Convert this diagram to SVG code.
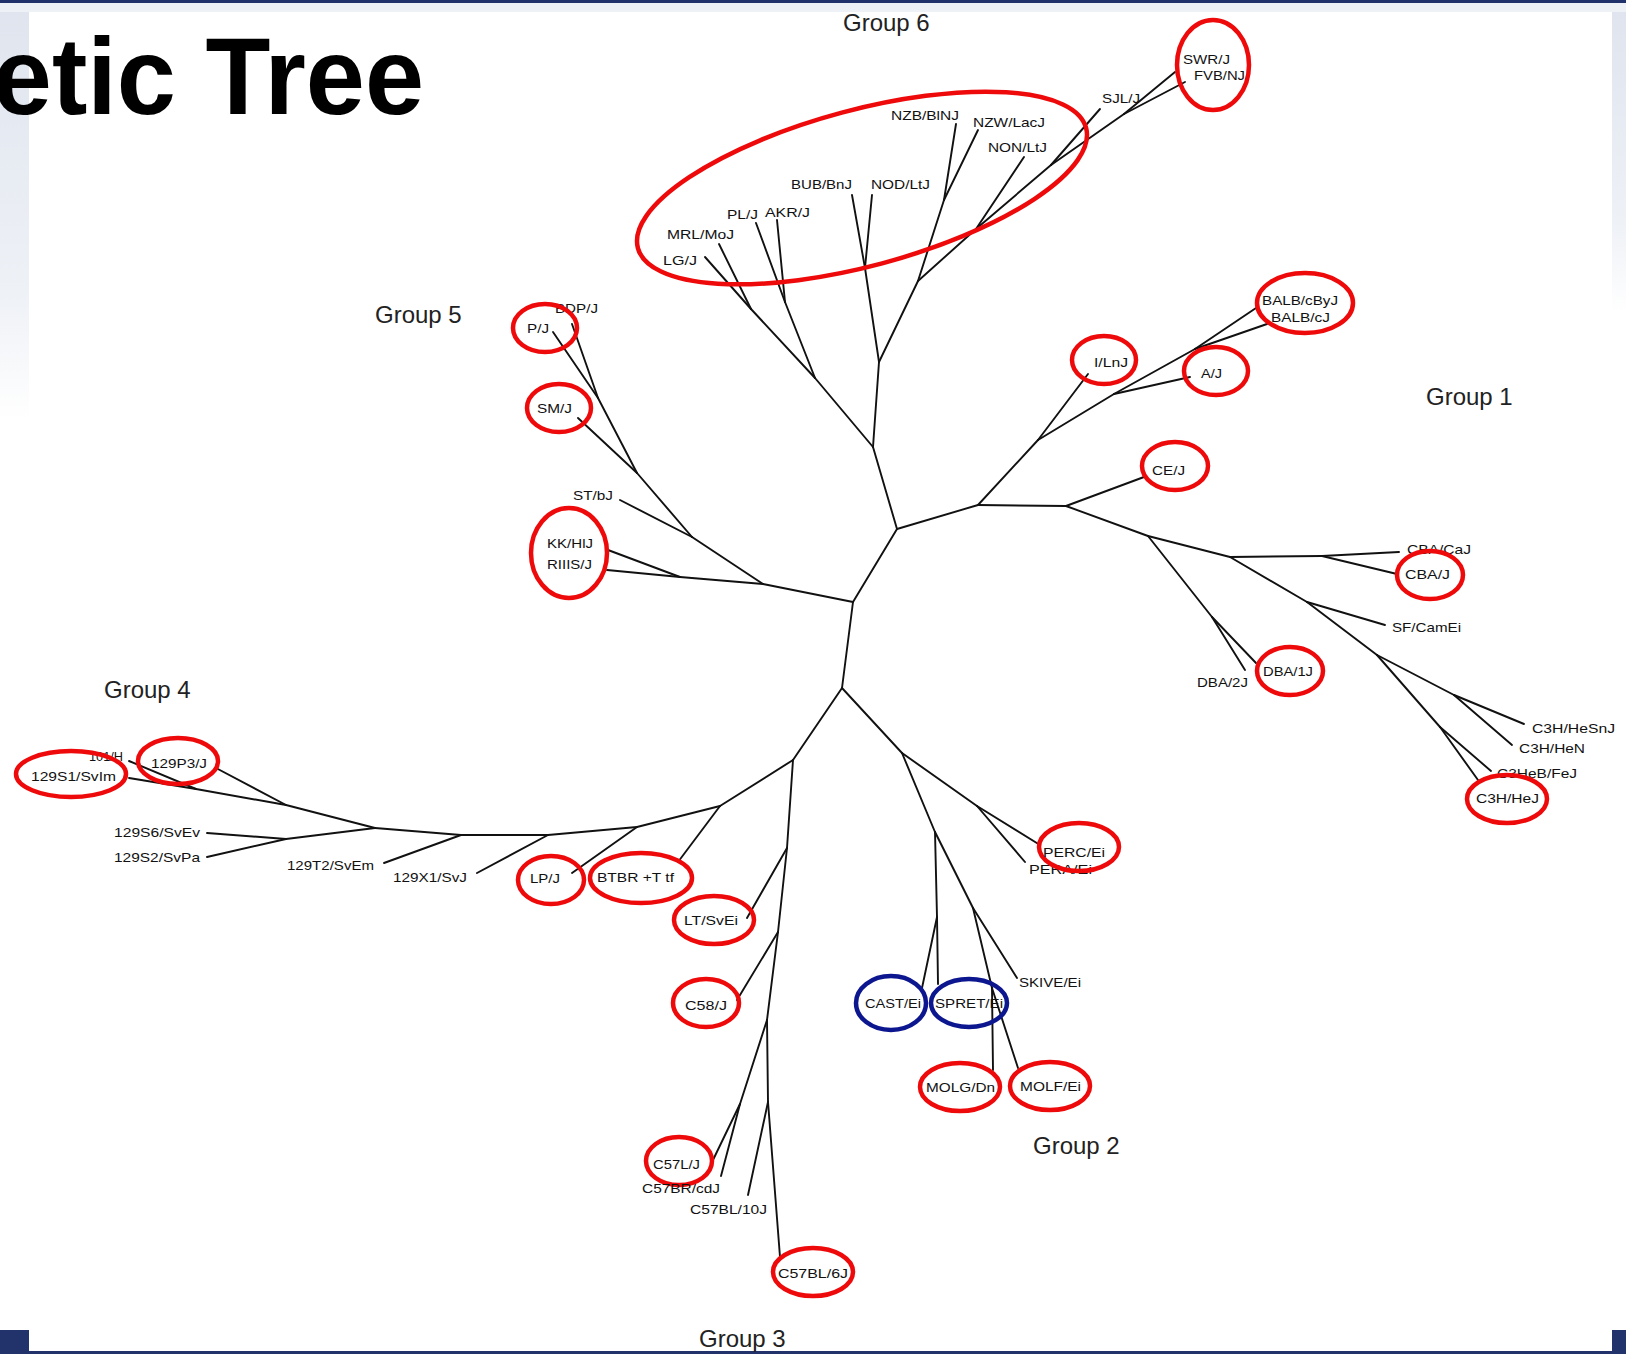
<svg xmlns="http://www.w3.org/2000/svg" width="1626" height="1354" viewBox="0 0 1626 1354">
<defs>
<linearGradient id="lg" x1="0" y1="0" x2="0" y2="1">
<stop offset="0" stop-color="#dfe4ee"/>
<stop offset="0.7" stop-color="#eef1f6"/>
<stop offset="1" stop-color="#ffffff"/>
</linearGradient>
<style>
.e{stroke:#111;stroke-width:1.9;fill:none;stroke-linecap:round}
.t{font-family:"Liberation Sans",Arial,sans-serif;font-size:13px;fill:#111}
.g{font-family:"Liberation Sans",Arial,sans-serif;font-size:24px;fill:#222}
.r{fill:none;stroke:#ee0a0a;stroke-width:4.5}
.b{fill:none;stroke:#0c168f;stroke-width:4.5}
</style>
</defs>
<rect width="1626" height="1354" fill="#fff"/>
<rect x="0" y="0" width="29" height="420" fill="url(#lg)"/>
<rect x="1612" y="12" width="14" height="300" fill="url(#lg)"/>
<rect x="0" y="0" width="1626" height="12" fill="#eef1f6"/>
<rect x="0" y="0" width="1626" height="3" fill="#22326b"/>
<rect x="0" y="1330" width="29" height="24" fill="#22326b"/>
<rect x="1612" y="1330" width="14" height="24" fill="#22326b"/>
<rect x="0" y="1351" width="1626" height="3" fill="#22326b"/>
<text transform="translate(424,114) scale(0.975,1)" text-anchor="end" font-family="Liberation Sans,Arial,sans-serif" font-weight="bold" font-size="109" fill="#000">etic Tree</text>

<g id="connectors">
<line class="e" x1="897" y1="529" x2="853" y2="602"/>
<line class="e" x1="853" y1="602" x2="842" y2="688"/>
<line class="e" x1="897" y1="529" x2="873" y2="447"/>
<line class="e" x1="897" y1="529" x2="978" y2="505"/>
<line class="e" x1="853" y1="602" x2="763" y2="584"/>
<line class="e" x1="842" y1="688" x2="902" y2="753"/>
<line class="e" x1="842" y1="688" x2="793" y2="760"/>
<!-- group 6 -->
<line class="e" x1="873" y1="447" x2="815" y2="378"/>
<line class="e" x1="815" y1="378" x2="751" y2="309"/>
<line class="e" x1="751" y1="309" x2="705" y2="257"/>
<line class="e" x1="751" y1="309" x2="719" y2="244"/>
<line class="e" x1="815" y1="378" x2="785" y2="302"/>
<line class="e" x1="785" y1="302" x2="756" y2="223"/>
<line class="e" x1="785" y1="302" x2="777" y2="220"/>
<line class="e" x1="873" y1="447" x2="879" y2="362"/>
<line class="e" x1="879" y1="362" x2="865" y2="268"/>
<line class="e" x1="865" y1="268" x2="852" y2="195"/>
<line class="e" x1="865" y1="268" x2="872" y2="195"/>
<line class="e" x1="879" y1="362" x2="918" y2="281"/>
<line class="e" x1="918" y1="281" x2="944" y2="200"/>
<line class="e" x1="944" y1="200" x2="956" y2="124"/>
<line class="e" x1="944" y1="200" x2="978" y2="130"/>
<line class="e" x1="918" y1="281" x2="976" y2="229"/>
<line class="e" x1="976" y1="229" x2="1024" y2="157"/>
<line class="e" x1="976" y1="229" x2="1051" y2="165"/>
<line class="e" x1="1051" y1="165" x2="1100" y2="109"/>
<line class="e" x1="1051" y1="165" x2="1124" y2="114"/>
<line class="e" x1="1124" y1="114" x2="1175" y2="72"/>
<line class="e" x1="1124" y1="114" x2="1185" y2="82"/>
<!-- group 1 -->
<line class="e" x1="978" y1="505" x2="1038" y2="440"/>
<line class="e" x1="1038" y1="440" x2="1088" y2="374"/>
<line class="e" x1="1038" y1="440" x2="1114" y2="394"/>
<line class="e" x1="1114" y1="394" x2="1190" y2="377"/>
<line class="e" x1="1114" y1="394" x2="1195" y2="349"/>
<line class="e" x1="1195" y1="349" x2="1256" y2="308"/>
<line class="e" x1="1195" y1="349" x2="1267" y2="324"/>
<line class="e" x1="978" y1="505" x2="1066" y2="506"/>
<line class="e" x1="1066" y1="506" x2="1144" y2="477"/>
<line class="e" x1="1066" y1="506" x2="1148" y2="536"/>
<line class="e" x1="1148" y1="536" x2="1212" y2="617"/>
<line class="e" x1="1212" y1="617" x2="1245" y2="670"/>
<line class="e" x1="1212" y1="617" x2="1256" y2="663"/>
<line class="e" x1="1148" y1="536" x2="1230" y2="557"/>
<line class="e" x1="1230" y1="557" x2="1322" y2="556"/>
<line class="e" x1="1322" y1="556" x2="1399" y2="552"/>
<line class="e" x1="1322" y1="556" x2="1397" y2="574"/>
<line class="e" x1="1230" y1="557" x2="1307" y2="602"/>
<line class="e" x1="1307" y1="602" x2="1385" y2="625"/>
<line class="e" x1="1307" y1="602" x2="1377" y2="655"/>
<line class="e" x1="1377" y1="655" x2="1454" y2="695"/>
<line class="e" x1="1454" y1="695" x2="1524" y2="724"/>
<line class="e" x1="1454" y1="695" x2="1512" y2="745"/>
<line class="e" x1="1377" y1="655" x2="1440" y2="727"/>
<line class="e" x1="1440" y1="727" x2="1491" y2="771"/>
<line class="e" x1="1440" y1="727" x2="1478" y2="780"/>
<!-- group 5 -->
<line class="e" x1="763" y1="584" x2="680" y2="577"/>
<line class="e" x1="680" y1="577" x2="608" y2="550"/>
<line class="e" x1="680" y1="577" x2="607" y2="570"/>
<line class="e" x1="763" y1="584" x2="692" y2="537"/>
<line class="e" x1="692" y1="537" x2="620" y2="500"/>
<line class="e" x1="692" y1="537" x2="637" y2="473"/>
<line class="e" x1="637" y1="473" x2="578" y2="418"/>
<line class="e" x1="637" y1="473" x2="598" y2="398"/>
<line class="e" x1="598" y1="398" x2="553" y2="332"/>
<line class="e" x1="598" y1="398" x2="572" y2="324"/>
<!-- group 2 -->
<line class="e" x1="902" y1="753" x2="977" y2="806"/>
<line class="e" x1="977" y1="806" x2="1040" y2="845"/>
<line class="e" x1="977" y1="806" x2="1025" y2="862"/>
<line class="e" x1="902" y1="753" x2="935" y2="832"/>
<line class="e" x1="935" y1="832" x2="937" y2="917"/>
<line class="e" x1="937" y1="917" x2="922" y2="988"/>
<line class="e" x1="937" y1="917" x2="938" y2="984"/>
<line class="e" x1="935" y1="832" x2="973" y2="908"/>
<line class="e" x1="973" y1="908" x2="1017" y2="978"/>
<line class="e" x1="973" y1="908" x2="992" y2="988"/>
<line class="e" x1="992" y1="988" x2="993" y2="1070"/>
<line class="e" x1="992" y1="988" x2="1018" y2="1068"/>
<!-- group 3 -->
<line class="e" x1="793" y1="760" x2="787" y2="848"/>
<line class="e" x1="787" y1="848" x2="747" y2="918"/>
<line class="e" x1="787" y1="848" x2="778" y2="932"/>
<line class="e" x1="778" y1="932" x2="737" y2="1000"/>
<line class="e" x1="778" y1="932" x2="767" y2="1020"/>
<line class="e" x1="767" y1="1020" x2="740" y2="1104"/>
<line class="e" x1="740" y1="1104" x2="713" y2="1160"/>
<line class="e" x1="740" y1="1104" x2="721" y2="1176"/>
<line class="e" x1="767" y1="1020" x2="768" y2="1102"/>
<line class="e" x1="768" y1="1102" x2="748" y2="1195"/>
<line class="e" x1="768" y1="1102" x2="780" y2="1257"/>
<!-- group 4 -->
<line class="e" x1="793" y1="760" x2="720" y2="806"/>
<line class="e" x1="720" y1="806" x2="678" y2="862"/>
<line class="e" x1="720" y1="806" x2="637" y2="827"/>
<line class="e" x1="637" y1="827" x2="572" y2="873"/>
<line class="e" x1="637" y1="827" x2="548" y2="835"/>
<line class="e" x1="548" y1="835" x2="477" y2="873"/>
<line class="e" x1="548" y1="835" x2="461" y2="835"/>
<line class="e" x1="461" y1="835" x2="384" y2="863"/>
<line class="e" x1="461" y1="835" x2="375" y2="828"/>
<line class="e" x1="375" y1="828" x2="286" y2="839"/>
<line class="e" x1="286" y1="839" x2="207" y2="833"/>
<line class="e" x1="286" y1="839" x2="207" y2="857"/>
<line class="e" x1="375" y1="828" x2="286" y2="805"/>
<line class="e" x1="286" y1="805" x2="216" y2="768"/>
<line class="e" x1="286" y1="805" x2="196" y2="789"/>
<line class="e" x1="196" y1="789" x2="129" y2="778"/>
<line class="e" x1="196" y1="789" x2="129" y2="761"/>
</g>

<g id="group-labels">
<text class="g" x="843" y="31">Group 6</text>
<text class="g" x="375" y="323">Group 5</text>
<text class="g" x="1426" y="405">Group 1</text>
<text class="g" x="104" y="698">Group 4</text>
<text class="g" x="1033" y="1154">Group 2</text>
<text class="g" x="699" y="1347">Group 3</text>
</g>

<g id="group6-circle"><ellipse class="r" cx="862" cy="188" rx="232" ry="78" transform="rotate(-15 862 188)"/></g>
<g id="NZB"><text class="t" x="891" y="120" textLength="68" lengthAdjust="spacingAndGlyphs">NZB/BlNJ</text></g>
<g id="NZW"><text class="t" x="973" y="127" textLength="72" lengthAdjust="spacingAndGlyphs">NZW/LacJ</text></g>
<g id="NON"><text class="t" x="988" y="152" textLength="59" lengthAdjust="spacingAndGlyphs">NON/LtJ</text></g>
<g id="SJL"><text class="t" x="1102" y="103" textLength="38" lengthAdjust="spacingAndGlyphs">SJL/J</text></g>
<g id="SWR"><ellipse class="r" cx="1213" cy="65" rx="36" ry="45"/><text class="t" x="1183" y="64" textLength="47" lengthAdjust="spacingAndGlyphs">SWR/J</text></g>
<g id="FVB"><text class="t" x="1194" y="80" textLength="51" lengthAdjust="spacingAndGlyphs">FVB/NJ</text></g>
<g id="BUB"><text class="t" x="791" y="189" textLength="61" lengthAdjust="spacingAndGlyphs">BUB/BnJ</text></g>
<g id="NOD"><text class="t" x="871" y="189" textLength="59" lengthAdjust="spacingAndGlyphs">NOD/LtJ</text></g>
<g id="PL"><text class="t" x="727" y="219" textLength="31" lengthAdjust="spacingAndGlyphs">PL/J</text></g>
<g id="AKR"><text class="t" x="765" y="217" textLength="45" lengthAdjust="spacingAndGlyphs">AKR/J</text></g>
<g id="MRL"><text class="t" x="667" y="239" textLength="67" lengthAdjust="spacingAndGlyphs">MRL/MoJ</text></g>
<g id="LG"><text class="t" x="663" y="265" textLength="34" lengthAdjust="spacingAndGlyphs">LG/J</text></g>

<g id="BALBcByJ"><ellipse class="r" cx="1305" cy="303" rx="48" ry="30"/><text class="t" x="1262" y="305" textLength="76" lengthAdjust="spacingAndGlyphs">BALB/cByJ</text></g>
<g id="BALBcJ"><text class="t" x="1271" y="322" textLength="59" lengthAdjust="spacingAndGlyphs">BALB/cJ</text></g>
<g id="ILnJ"><ellipse class="r" cx="1104" cy="360" rx="32" ry="24"/><text class="t" x="1094" y="367" textLength="34" lengthAdjust="spacingAndGlyphs">I/LnJ</text></g>
<g id="AJ"><ellipse class="r" cx="1216" cy="371" rx="32" ry="24"/><text class="t" x="1201" y="378" textLength="21" lengthAdjust="spacingAndGlyphs">A/J</text></g>
<g id="CEJ"><ellipse class="r" cx="1175" cy="466" rx="33" ry="24"/><text class="t" x="1152" y="475" textLength="33" lengthAdjust="spacingAndGlyphs">CE/J</text></g>
<g id="CBACaJ"><text class="t" x="1407" y="554" textLength="64" lengthAdjust="spacingAndGlyphs">CBA/CaJ</text></g>
<g id="CBAJ"><ellipse class="r" cx="1430" cy="575" rx="33" ry="24"/><text class="t" x="1405" y="579" textLength="45" lengthAdjust="spacingAndGlyphs">CBA/J</text></g>
<g id="SFCamEi"><text class="t" x="1392" y="632" textLength="69" lengthAdjust="spacingAndGlyphs">SF/CamEi</text></g>
<g id="DBA2J"><text class="t" x="1197" y="687" textLength="51" lengthAdjust="spacingAndGlyphs">DBA/2J</text></g>
<g id="DBA1J"><ellipse class="r" cx="1290" cy="671" rx="33" ry="24"/><text class="t" x="1263" y="676" textLength="50" lengthAdjust="spacingAndGlyphs">DBA/1J</text></g>
<g id="C3HHeSnJ"><text class="t" x="1532" y="733" textLength="83" lengthAdjust="spacingAndGlyphs">C3H/HeSnJ</text></g>
<g id="C3HHeN"><text class="t" x="1519" y="753" textLength="66" lengthAdjust="spacingAndGlyphs">C3H/HeN</text></g>
<g id="C3HeBFeJ"><text class="t" x="1497" y="778" textLength="80" lengthAdjust="spacingAndGlyphs">C3HeB/FeJ</text></g>
<g id="C3HHeJ"><ellipse class="r" cx="1507" cy="799" rx="40" ry="24"/><text class="t" x="1476" y="803" textLength="63" lengthAdjust="spacingAndGlyphs">C3H/HeJ</text></g>

<g id="BDPJ"><text class="t" x="555" y="313" textLength="43" lengthAdjust="spacingAndGlyphs">BDP/J</text></g>
<g id="PJ"><ellipse class="r" cx="545" cy="328" rx="32" ry="24"/><text class="t" x="527" y="333" textLength="22" lengthAdjust="spacingAndGlyphs">P/J</text></g>
<g id="SMJ"><ellipse class="r" cx="559" cy="408" rx="32" ry="24"/><text class="t" x="537" y="413" textLength="35" lengthAdjust="spacingAndGlyphs">SM/J</text></g>
<g id="STJ"><text class="t" x="573" y="500" textLength="40" lengthAdjust="spacingAndGlyphs">ST/bJ</text></g>
<g id="KKHJ"><ellipse class="r" cx="569" cy="553" rx="38" ry="45"/><text class="t" x="547" y="548" textLength="46" lengthAdjust="spacingAndGlyphs">KK/HlJ</text></g>
<g id="RIIISJ"><text class="t" x="547" y="569" textLength="45" lengthAdjust="spacingAndGlyphs">RIIIS/J</text></g>

<g id="PERCEi"><text class="t" x="1029" y="874" textLength="63" lengthAdjust="spacingAndGlyphs">PERA/Ei</text><ellipse class="r" cx="1079" cy="847" rx="40" ry="24"/><text class="t" x="1043" y="857" textLength="62" lengthAdjust="spacingAndGlyphs">PERC/Ei</text></g>
<g id="SKIVEEi"><text class="t" x="1019" y="987" textLength="62" lengthAdjust="spacingAndGlyphs">SKIVE/Ei</text></g>
<g id="CASTEi"><ellipse class="b" cx="891" cy="1003" rx="35" ry="27"/><text class="t" x="865" y="1008" textLength="56" lengthAdjust="spacingAndGlyphs">CAST/Ei</text></g>
<g id="SPRETEi"><ellipse class="b" cx="969" cy="1003" rx="38" ry="24"/><text class="t" x="935" y="1008" textLength="68" lengthAdjust="spacingAndGlyphs">SPRET/Ei</text></g>
<g id="MOLGDn"><ellipse class="r" cx="960" cy="1087" rx="40" ry="24"/><text class="t" x="926" y="1092" textLength="69" lengthAdjust="spacingAndGlyphs">MOLG/Dn</text></g>
<g id="MOLFEi"><ellipse class="r" cx="1050" cy="1086" rx="40" ry="24"/><text class="t" x="1020" y="1091" textLength="61" lengthAdjust="spacingAndGlyphs">MOLF/Ei</text></g>

<g id="LPJ"><ellipse class="r" cx="551" cy="880" rx="33" ry="24"/><text class="t" x="530" y="883" textLength="30" lengthAdjust="spacingAndGlyphs">LP/J</text></g>
<g id="BTBR"><ellipse class="r" cx="641" cy="878" rx="51" ry="25"/><text class="t" x="597" y="882" textLength="77" lengthAdjust="spacingAndGlyphs">BTBR +T tf</text></g>
<g id="LTSvEi"><ellipse class="r" cx="714" cy="920" rx="40" ry="24"/><text class="t" x="684" y="925" textLength="54" lengthAdjust="spacingAndGlyphs">LT/SvEi</text></g>
<g id="C58J"><ellipse class="r" cx="706" cy="1003" rx="33" ry="24"/><text class="t" x="685" y="1010" textLength="42" lengthAdjust="spacingAndGlyphs">C58/J</text></g>
<g id="C57LJ"><ellipse class="r" cx="679" cy="1161" rx="33" ry="24"/><text class="t" x="653" y="1169" textLength="47" lengthAdjust="spacingAndGlyphs">C57L/J</text></g>
<g id="C57BRcdJ"><text class="t" x="642" y="1193" textLength="78" lengthAdjust="spacingAndGlyphs">C57BR/cdJ</text></g>
<g id="C57BL10J"><text class="t" x="690" y="1214" textLength="77" lengthAdjust="spacingAndGlyphs">C57BL/10J</text></g>
<g id="C57BL6J"><ellipse class="r" cx="813" cy="1272" rx="40" ry="24"/><text class="t" x="778" y="1278" textLength="70" lengthAdjust="spacingAndGlyphs">C57BL/6J</text></g>

<g id="101H"><text class="t" x="89" y="761" textLength="34" lengthAdjust="spacingAndGlyphs">101/H</text></g>
<g id="129P3J"><ellipse class="r" cx="178" cy="761" rx="40" ry="23"/><text class="t" x="151" y="768" textLength="56" lengthAdjust="spacingAndGlyphs">129P3/J</text></g>
<g id="129S1SvIm"><ellipse class="r" cx="71" cy="774" rx="55" ry="23"/><text class="t" x="31" y="781" textLength="85" lengthAdjust="spacingAndGlyphs">129S1/SvIm</text></g>
<g id="129S6SvEv"><text class="t" x="114" y="837" textLength="86" lengthAdjust="spacingAndGlyphs">129S6/SvEv</text></g>
<g id="129S2SvPa"><text class="t" x="114" y="862" textLength="86" lengthAdjust="spacingAndGlyphs">129S2/SvPa</text></g>
<g id="129T2SvEm"><text class="t" x="287" y="870" textLength="87" lengthAdjust="spacingAndGlyphs">129T2/SvEm</text></g>
<g id="129X1SvJ"><text class="t" x="393" y="882" textLength="74" lengthAdjust="spacingAndGlyphs">129X1/SvJ</text></g>
</svg>
